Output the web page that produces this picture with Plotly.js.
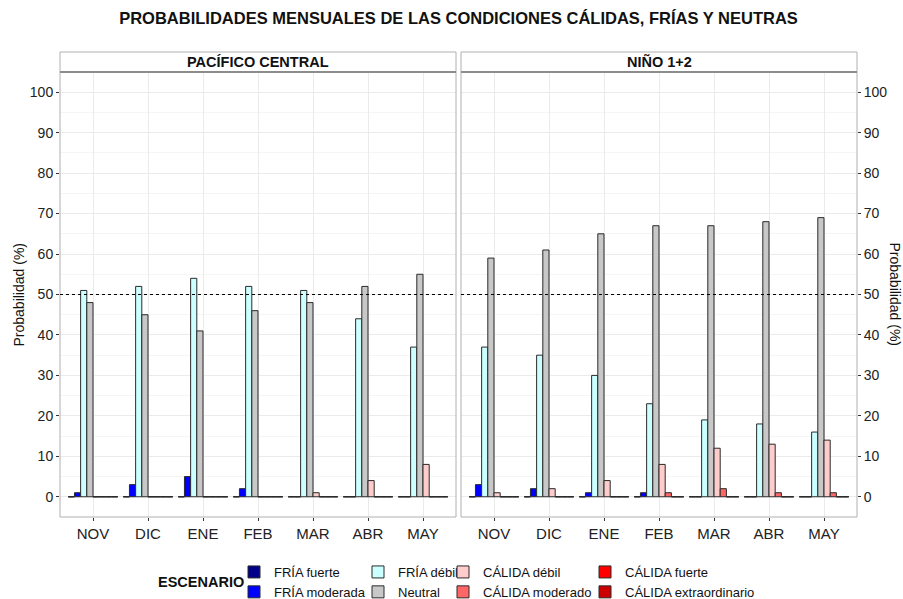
<!DOCTYPE html>
<html>
<head>
<meta charset="utf-8">
<script src="https://cdn.plot.ly/plotly-3.0.1.min.js"></script>
<style>html,body{margin:0;padding:0;background:#fff;}#chart{width:903px;height:599px;}</style>
</head>
<body>
<div id="chart"></div>
<script>
const months = ["NOV", "DIC", "ENE", "FEB", "MAR", "ABR", "MAY"];
const scenarios = ["FRÍA fuerte", "FRÍA moderada", "FRÍA débil", "Neutral", "CÁLIDA débil", "CÁLIDA moderado", "CÁLIDA fuerte", "CÁLIDA extraordinario"];
const colors = ["#00008B", "#0000FF", "#CCFFFF", "#C8C8C8", "#FFCCCC", "#FF6666", "#FF0000", "#CC0000"];
const panels = ["PACÍFICO CENTRAL", "NIÑO 1+2"];

// Pacífico Central
const pcFriaFuerte   = [0, 0, 0, 0, 0, 0, 0];
const pcFriaModerada = [1, 3, 5, 2, 0, 0, 0];
const pcFriaDebil    = [51, 52, 54, 52, 51, 44, 37];
const pcNeutral      = [48, 45, 41, 46, 48, 52, 55];
const pcCalidaDebil  = [0, 0, 0, 0, 1, 4, 8];
const pcCalidaMod    = [0, 0, 0, 0, 0, 0, 0];
const pcCalidaFuerte = [0, 0, 0, 0, 0, 0, 0];
const pcCalidaExtra  = [0, 0, 0, 0, 0, 0, 0];

// Niño 1+2
const n12FriaFuerte   = [0, 0, 0, 0, 0, 0, 0];
const n12FriaModerada = [3, 2, 1, 1, 0, 0, 0];
const n12FriaDebil    = [37, 35, 30, 23, 19, 18, 16];
const n12Neutral      = [59, 61, 65, 67, 67, 68, 69];
const n12CalidaDebil  = [1, 2, 4, 8, 12, 13, 14];
const n12CalidaMod    = [0, 0, 0, 1, 2, 1, 1];
const n12CalidaFuerte = [0, 0, 0, 0, 0, 0, 0];
const n12CalidaExtra  = [0, 0, 0, 0, 0, 0, 0];

const yTickVals = [0, 10, 20, 30, 40, 50, 60, 70, 80, 90, 100];
const threshold = 50;

const panelData = [
  [pcFriaFuerte, pcFriaModerada, pcFriaDebil, pcNeutral, pcCalidaDebil, pcCalidaMod, pcCalidaFuerte, pcCalidaExtra],
  [n12FriaFuerte, n12FriaModerada, n12FriaDebil, n12Neutral, n12CalidaDebil, n12CalidaMod, n12CalidaFuerte, n12CalidaExtra]
];

const FONT = "Liberation Sans, Arial, Helvetica, sans-serif";
const xIdx = months.map((m, i) => i);
const legendOf = ["legend", "legend", "legend2", "legend2", "legend3", "legend3", "legend4", "legend4"];
const dodge = 0.9;
const nS = scenarios.length;

const traces = [];
panelData.forEach((series, p) => {
  const xa = p === 0 ? "x" : "x2";
  const ya = p === 0 ? "y" : "y2";
  series.forEach((vals, s) => {
    traces.push({
      type: "bar",
      x: xIdx,
      y: vals,
      name: scenarios[s],
      xaxis: xa, yaxis: ya,
      marker: {color: colors[s], line: {color: "#2a2a2a", width: 1}},
      legend: legendOf[s],
      showlegend: p === 0,
      hoverinfo: "name+y"
    });
  });
  // zero-height bars drawn as flat outlines
  const zx = [], zy = [];
  xIdx.forEach(i => {
    series.forEach((vals, s) => {
      if (vals[i] === 0) {
        const x0 = i - dodge / 2 + s * dodge / nS;
        zx.push(x0, x0 + dodge / nS, null);
        zy.push(0, 0, null);
      }
    });
  });
  traces.push({type: "scatter", mode: "lines", x: zx, y: zy, xaxis: xa, yaxis: ya,
    line: {color: "#2a2a2a", width: 1.2}, showlegend: false, hoverinfo: "skip"});
});

const plotL = 60, plotR = 857, plotT = 72, plotB = 517;
const W = plotR - plotL, H = plotB - plotT;
const d1 = (456 - plotL) / W, d2 = (461 - plotL) / W;

function xaxisDef(domain) {
  return {
    domain: domain, range: [-0.6, 6.6], tickvals: xIdx, ticktext: months,
    ticks: "outside", ticklen: 3, tickcolor: "#333", showgrid: true, gridcolor: "#ebebeb", gridwidth: 1,
    zeroline: false, showline: false, tickfont: {family: FONT, size: 15, color: "#222"}, fixedrange: true
  };
}
function yaxisDef(extra) {
  return Object.assign({
    range: [-5, 105], tickvals: yTickVals, ticks: "outside", ticklen: 3, tickcolor: "#333",
    showgrid: true, gridcolor: "#ebebeb", gridwidth: 1, zeroline: false, showline: false,
    minor: {dtick: 5, tick0: 5, showgrid: true, gridcolor: "#f5f5f5", gridwidth: 1, ticks: ""},
    tickfont: {family: FONT, size: 14, color: "#222"}, fixedrange: true
  }, extra);
}

const stripH = 20 / H;
const shapes = [];
[[0, d1], [d2, 1]].forEach(([a, b], p) => {
  shapes.push({type: "rect", xref: "paper", yref: "paper", x0: a, x1: b, y0: 0, y1: 1,
    line: {color: "#b0b0b0", width: 1}, fillcolor: "rgba(0,0,0,0)", layer: "above"});
  shapes.push({type: "rect", xref: "paper", yref: "paper", x0: a, x1: b, y0: 1, y1: 1 + stripH,
    line: {color: "#b0b0b0", width: 1}, fillcolor: "#ffffff"});
  shapes.push({type: "line", xref: "paper", yref: "paper", x0: a, x1: b, y0: 1, y1: 1,
    line: {color: "#8c8c8c", width: 2}, layer: "above"});
  shapes.push({type: "line", xref: (p === 0 ? "x" : "x2") + " domain", yref: p === 0 ? "y" : "y2",
    x0: 0, x1: 1, y0: threshold, y1: threshold, line: {color: "#000", width: 1, dash: "3px,3px"}, layer: "above"});
});

const annotations = [
  {text: "<b>" + panels[0] + "</b>", xref: "paper", yref: "paper", x: d1 / 2, y: 1 + stripH / 2,
    showarrow: false, font: {family: FONT, size: 14.5, color: "#111"}, xanchor: "center", yanchor: "middle"},
  {text: "<b>" + panels[1] + "</b>", xref: "paper", yref: "paper", x: (d2 + 1) / 2, y: 1 + stripH / 2,
    showarrow: false, font: {family: FONT, size: 14.5, color: "#111"}, xanchor: "center", yanchor: "middle"},
  {text: "Probabilidad (%)", xref: "paper", yref: "paper", x: (18 - plotL) / W, y: 0.5, textangle: -90,
    showarrow: false, font: {family: FONT, size: 14, color: "#111"}, xanchor: "center", yanchor: "middle"},
  {text: "Probabilidad (%)", xref: "paper", yref: "paper", x: (895 - plotL) / W, y: 0.5, textangle: 90,
    showarrow: false, font: {family: FONT, size: 14, color: "#111"}, xanchor: "center", yanchor: "middle"},
  {text: "<b>ESCENARIO</b>", xref: "paper", yref: "paper", x: (201 - plotL) / W, y: (plotB - 582) / H,
    showarrow: false, font: {family: FONT, size: 14.5, color: "#111"}, xanchor: "center", yanchor: "middle"}
];

function legendDef(px) {
  return {x: (px - plotL) / W, xanchor: "left", y: 1 - 557 / 599, yanchor: "top", xref: "paper", yref: "container",
    orientation: "v", font: {family: FONT, size: 13, color: "#111"}, bgcolor: "rgba(0,0,0,0)",
    tracegroupgap: 0, itemwidth: 30, traceorder: "normal"};
}

const layout = {
  width: 903, height: 599,
  margin: {l: plotL, r: 903 - plotR, t: plotT, b: 599 - plotB, pad: 0},
  paper_bgcolor: "#fff", plot_bgcolor: "#fff",
  title: {text: "<b>PROBABILIDADES MENSUALES DE LAS CONDICIONES CÁLIDAS, FRÍAS Y NEUTRAS</b>",
    x: 0.5, xref: "paper", xanchor: "center", y: 1 - 18 / 599, yref: "container", yanchor: "middle",
    font: {family: FONT, size: 16.5, color: "#111"}},
  barmode: "group", bargap: 0.1, bargroupgap: 0,
  xaxis: xaxisDef([0, d1]),
  xaxis2: xaxisDef([d2, 1]),
  yaxis: yaxisDef({anchor: "x"}),
  yaxis2: yaxisDef({anchor: "x2", side: "right"}),
  shapes: shapes, annotations: annotations,
  legend: legendDef(234), legend2: legendDef(358), legend3: legendDef(443), legend4: legendDef(585),
  showlegend: true, font: {family: FONT}
};

Plotly.newPlot("chart", traces, layout, {displayModeBar: false, staticPlot: true});
</script>
</body>
</html>
